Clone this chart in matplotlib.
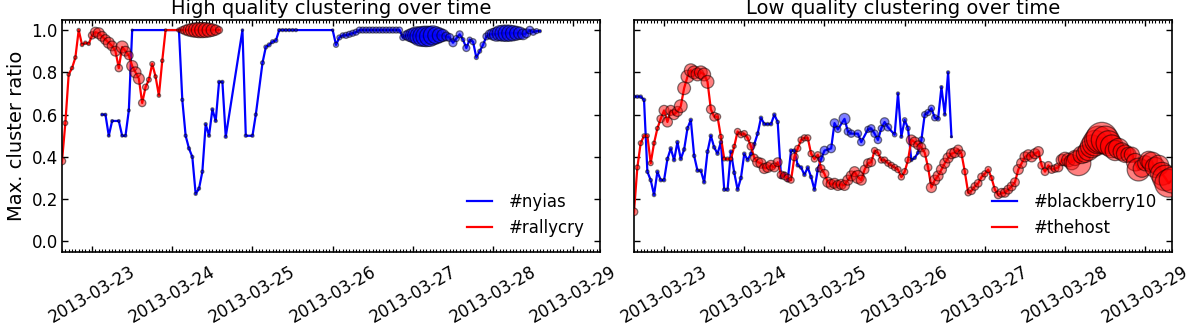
import numpy as np
import matplotlib
matplotlib.use("Agg")
import matplotlib.pyplot as plt
import matplotlib.dates as mdates

# hours counted from 2013-03-22 15:00, value = max. cluster ratio, size = marker area
T0 = np.datetime64("2013-03-22T15:00")

nyias_hours = [12, 13, 14, 15, 17, 18, 19, 20, 21, 35, 36, 37, 38, 39, 40, 41, 42, 43, 44, 45,
               46, 47, 48, 49, 54, 55, 57, 58, 60, 61, 62, 63, 64, 65, 66, 67, 68, 69, 70, 81,
               82, 83, 84, 85, 86, 87, 88, 89, 90, 91, 92, 93, 94, 95, 96, 97, 98, 99, 100, 101,
               102, 103, 104, 105, 106, 107, 108, 109, 110, 111, 112, 113, 114, 115, 116, 117, 118, 119, 120, 121,
               122, 123, 124, 125, 126, 127, 128, 129, 130, 131, 132, 133, 134, 135, 136, 137, 138, 139, 140, 141,
               142, 143]
nyias_vals = [0.60, 0.60, 0.50, 0.57, 0.57, 0.50, 0.50, 0.62, 1.0, 1.0, 0.67, 0.50, 0.44, 0.40, 0.225, 0.25, 0.33, 0.555, 0.50, 0.625,
              0.57, 0.755, 0.755, 0.495, 1.0, 0.50, 0.50, 0.60, 0.845, 0.92, 0.93, 0.945, 0.95, 1.0, 1.0, 1.0, 1.0, 1.0, 1.0, 1.0,
              0.93, 0.965, 0.975, 0.975, 0.98, 0.985, 0.99, 1.0, 1.0, 1.0, 1.0, 1.0, 1.0, 1.0, 1.0, 1.0, 1.0, 1.0, 1.0, 1.0,
              0.965, 0.975, 0.975, 0.975, 0.975, 0.97, 0.97, 0.97, 0.97, 0.975, 0.975, 0.975, 0.975, 0.97, 0.965, 0.94, 0.96, 0.98, 0.955, 0.915,
              0.955, 0.945, 0.87, 0.90, 0.93, 0.97, 0.98, 0.98, 0.98, 0.985, 0.985, 0.985, 0.985, 0.985, 0.985, 0.985, 0.98, 0.985, 1.0, 0.99,
              0.995, 0.995]
nyias_sizes = [4, 4, 4, 4, 4, 4, 4, 4, 2, 2, 5, 5, 5, 5, 5, 5, 5, 5, 5, 5,
               5, 5, 5, 5, 3, 5, 5, 5, 8, 8, 8, 8, 8, 5, 5, 5, 5, 5, 5, 3,
               13, 13, 13, 19, 19, 19, 19, 19, 19, 19, 19, 19, 19, 19, 19, 19, 19, 19, 19, 19,
               19, 40, 75, 110, 150, 190, 210, 220, 210, 190, 150, 110, 75, 40, 33, 33, 19, 25, 8, 25,
               13, 19, 8, 8, 19, 25, 40, 70, 100, 120, 135, 140, 135, 120, 100, 80, 60, 40, 30, 20,
               13, 5]

rallycry_hours = [0, 1, 2, 3, 4, 5, 6, 7, 8, 9, 10, 11, 12, 13, 14, 15, 16, 17, 18, 19,
                  20, 21, 22, 23, 24, 25, 26, 27, 28, 29, 30, 31, 35, 36, 37, 38, 39, 40, 41, 42,
                  43, 44, 45, 46, 47]
rallycry_vals = [0.38, 0.56, 0.79, 0.82, 0.87, 1.0, 0.93, 0.94, 0.935, 0.975, 0.99, 0.985, 0.97, 0.955, 0.94, 0.925, 0.90, 0.82, 0.92, 0.90,
                 0.88, 0.83, 0.80, 0.77, 0.655, 0.73, 0.765, 0.84, 0.78, 0.69, 0.855, 1.0, 1.0, 1.0, 1.0, 1.0, 1.0, 1.0, 1.0, 1.0,
                 1.0, 1.0, 1.0, 1.0, 1.0]
rallycry_sizes = [28, 12, 6, 6, 6, 6, 6, 6, 6, 28, 50, 62, 50, 50, 62, 50, 50, 28, 75, 50,
                  38, 62, 62, 62, 28, 19, 12, 12, 6, 6, 6, 3, 10, 25, 50, 75, 95, 110, 120, 120,
                  115, 100, 80, 55, 25]

bb_hours = [0, 1, 2, 3, 4, 5, 6, 7, 8, 9, 10, 11, 12, 13, 14, 15, 16, 17, 18, 19,
            20, 21, 22, 23, 24, 25, 26, 27, 28, 29, 30, 31, 32, 33, 34, 35, 36, 37, 38, 39,
            40, 41, 42, 43, 44, 45, 46, 47, 48, 49, 50, 51, 52, 53, 54, 55, 56, 57, 59, 60,
            61, 63, 64, 65, 67, 68, 70, 71, 72, 73, 74, 75, 76, 78, 79, 80, 81, 82, 83, 84,
            85, 86, 87, 88, 89, 90, 91, 92, 93, 94, 95]
bb_vals = [0.685, 0.685, 0.685, 0.67, 0.33, 0.29, 0.22, 0.33, 0.29, 0.29, 0.39, 0.44, 0.385, 0.47, 0.39, 0.435, 0.535, 0.575, 0.405, 0.335,
           0.335, 0.28, 0.425, 0.50, 0.445, 0.415, 0.47, 0.245, 0.245, 0.425, 0.325, 0.245, 0.30, 0.415, 0.385, 0.415, 0.46, 0.51, 0.585, 0.555,
           0.555, 0.555, 0.60, 0.565, 0.305, 0.32, 0.29, 0.43, 0.43, 0.36, 0.35, 0.315, 0.35, 0.305, 0.245, 0.34, 0.39, 0.43, 0.44, 0.56,
           0.53, 0.58, 0.52, 0.51, 0.51, 0.47, 0.53, 0.535, 0.51, 0.48, 0.535, 0.565, 0.54, 0.505, 0.70, 0.495, 0.575, 0.535, 0.385, 0.395,
           0.42, 0.48, 0.60, 0.61, 0.63, 0.585, 0.58, 0.73, 0.60, 0.80, 0.495]
bb_sizes = [6, 6, 6, 6, 6, 6, 6, 6, 6, 6, 6, 6, 6, 6, 6, 6, 6, 6, 6, 6,
            6, 6, 6, 6, 6, 6, 6, 6, 6, 6, 6, 6, 6, 6, 6, 6, 6, 6, 6, 6,
            6, 6, 6, 6, 6, 6, 6, 6, 6, 6, 6, 6, 6, 6, 6, 10, 20, 38, 38, 38,
            20, 62, 28, 28, 28, 28, 20, 28, 28, 28, 20, 38, 28, 10, 5, 5, 10, 10, 5, 5,
            5, 20, 20, 20, 20, 20, 10, 5, 5, 5, 2]

host_hours = list(range(0, 162))
host_vals = [0.14, 0.35, 0.465, 0.50, 0.50, 0.37, 0.465, 0.535, 0.58, 0.62, 0.565, 0.62, 0.60, 0.615, 0.64, 0.725, 0.78, 0.81, 0.80, 0.79,
             0.80, 0.79, 0.755, 0.625, 0.59, 0.59, 0.495, 0.39, 0.39, 0.39, 0.45, 0.52, 0.505, 0.51, 0.49, 0.45, 0.395, 0.375, 0.37, 0.345,
             0.35, 0.36, 0.35, 0.375, 0.315, 0.31, 0.30, 0.29, 0.40, 0.44, 0.48, 0.49, 0.49, 0.415, 0.39, 0.41, 0.345, 0.32, 0.28, 0.27,
             0.275, 0.265, 0.27, 0.265, 0.29, 0.31, 0.33, 0.305, 0.29, 0.34, 0.37, 0.375, 0.43, 0.42, 0.385, 0.385, 0.37, 0.36, 0.35, 0.34,
             0.305, 0.33, 0.385, 0.48, 0.47, 0.455, 0.445, 0.42, 0.35, 0.255, 0.29, 0.31, 0.34, 0.37, 0.395, 0.415, 0.42, 0.435, 0.415, 0.33,
             0.23, 0.24, 0.26, 0.275, 0.305, 0.32, 0.34, 0.30, 0.245, 0.22, 0.23, 0.23, 0.245, 0.26, 0.28, 0.34, 0.37, 0.40, 0.41, 0.40,
             0.415, 0.425, 0.36, 0.33, 0.36, 0.34, 0.345, 0.35, 0.385, 0.39, 0.385, 0.375, 0.395, 0.37, 0.41, 0.415, 0.43, 0.45, 0.465, 0.48,
             0.49, 0.48, 0.465, 0.45, 0.43, 0.44, 0.425, 0.415, 0.41, 0.41, 0.375, 0.34, 0.345, 0.37, 0.385, 0.375, 0.35, 0.36, 0.32, 0.30,
             0.275, 0.29]
host_sizes = [30, 12, 12, 8, 8, 12, 8, 8, 30, 52, 52, 52, 52, 52, 85, 85, 85, 85, 85, 85,
              85, 85, 85, 40, 40, 20, 12, 8, 8, 8, 8, 20, 20, 20, 20, 30, 30, 52, 52, 52,
              52, 52, 40, 40, 30, 30, 30, 20, 30, 20, 20, 20, 20, 20, 20, 20, 30, 40, 52, 52,
              52, 52, 52, 52, 52, 52, 52, 85, 52, 40, 40, 40, 20, 20, 20, 20, 20, 20, 20, 20,
              20, 20, 20, 52, 52, 40, 40, 40, 30, 52, 52, 52, 52, 52, 52, 52, 52, 40, 30, 20,
              20, 30, 30, 30, 30, 20, 20, 12, 20, 30, 40, 40, 40, 40, 40, 52, 52, 52, 52, 52,
              52, 52, 30, 30, 30, 30, 30, 40, 65, 95, 95, 120, 120, 320, 160, 160, 210, 270, 340, 400,
              500, 400, 320, 270, 210, 210, 160, 160, 120, 120, 160, 270, 160, 120, 160, 210, 210, 210, 270, 340,
              400, 340]

x_end = 161


def to_dates(hours):
    return T0 + np.array(hours, dtype="timedelta64[h]")


def draw(ax, hours, vals, sizes, color, label):
    d = to_dates(hours)
    ax.plot(d, vals, color=color, lw=1.6, label=label, zorder=2)
    ax.scatter(d, vals, s=sizes, c=color, alpha=0.5, edgecolors="k",
               linewidths=0.9, zorder=3)


fig = plt.figure(figsize=(11.96, 3.26), dpi=100)
ax1 = fig.add_axes([62 / 1196, 1 - 252 / 326, 538 / 1196, 232.5 / 326])
ax2 = fig.add_axes([634 / 1196, 1 - 252 / 326, 538 / 1196, 232.5 / 326], sharey=ax1)

draw(ax1, nyias_hours, nyias_vals, nyias_sizes, "b", "#nyias")
draw(ax1, rallycry_hours, rallycry_vals, rallycry_sizes, "r", "#rallycry")
draw(ax2, bb_hours, bb_vals, bb_sizes, "b", "#blackberry10")
draw(ax2, host_hours, host_vals, host_sizes, "r", "#thehost")

ax1.set_title("High quality clustering over time", fontsize=14, pad=4)
ax2.set_title("Low quality clustering over time", fontsize=14, pad=4)
ax1.set_ylabel("Max. cluster ratio", fontsize=14)

for ax in (ax1, ax2):
    ax.set_xlim(to_dates([0])[0], to_dates([x_end])[0])
    ax.set_ylim(-0.05, 1.05)
    ax.set_yticks([0.0, 0.2, 0.4, 0.6, 0.8, 1.0])
    ax.yaxis.set_major_formatter(plt.FormatStrFormatter("%.1f"))
    ax.xaxis.set_major_locator(mdates.DayLocator())
    ax.xaxis.set_major_formatter(mdates.DateFormatter("%Y-%m-%d"))
    ax.xaxis.set_minor_locator(mdates.HourLocator())
    ax.tick_params(which="both", direction="in", top=True, right=True, labelsize=12)
    ax.tick_params(which="major", length=4.5, width=1)
    ax.tick_params(which="minor", length=2, width=0.8)
    ax.tick_params(axis="x", labelrotation=30, pad=8)
    ax.tick_params(axis="y", pad=3)
    for sp in ax.spines.values():
        sp.set_linewidth(1.2)
    ax.legend(loc="lower right", frameon=False, fontsize=12,
              handlelength=1.5, handletextpad=1.0)

plt.setp(ax2.get_yticklabels(), visible=False)

fig.savefig("out.png", dpi=100)
